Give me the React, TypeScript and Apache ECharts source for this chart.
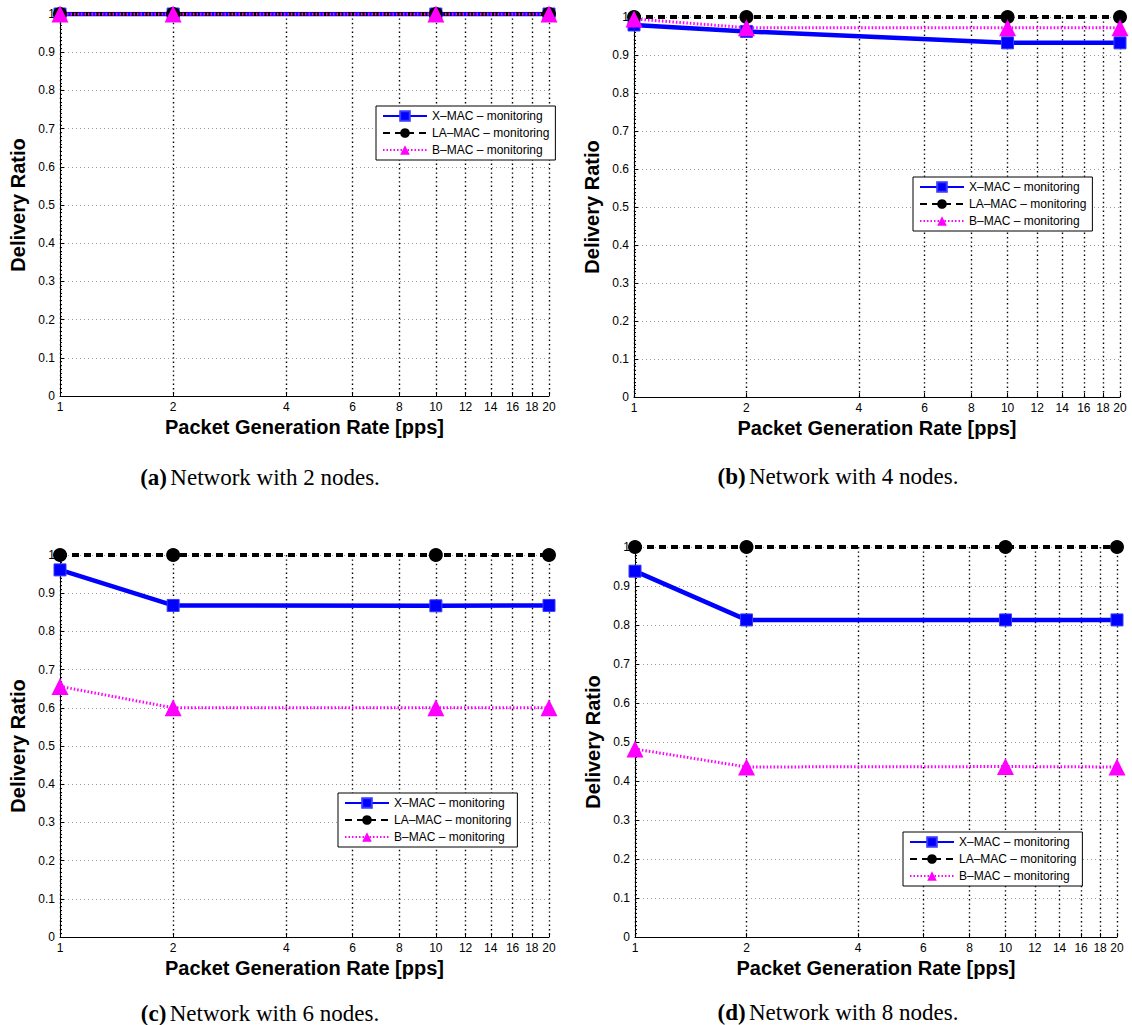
import React, { useEffect, useRef } from "react";
import * as echarts from "echarts";

const rates = [1, 2, 10, 20];
const xTicks = [1, 2, 4, 6, 8, 10, 12, 14, 16, 18, 20];
const seriesNames = ["X–MAC – monitoring", "LA–MAC – monitoring", "B–MAC – monitoring"];

// panel (a) 2 nodes
const xmacA = [1.0, 1.0, 1.0, 1.0];
const lamacA = [1.0, 1.0, 1.0, 1.0];
const bmacA = [1.0, 1.0, 1.0, 1.0];
// panel (b) 4 nodes
const xmacB = [0.979, 0.962, 0.932, 0.932];
const lamacB = [1.0, 1.0, 1.0, 1.0];
const bmacB = [0.995, 0.972, 0.972, 0.972];
// panel (c) 6 nodes
const xmacC = [0.961, 0.868, 0.867, 0.868];
const lamacC = [1.0, 1.0, 1.0, 1.0];
const bmacC = [0.656, 0.6, 0.6, 0.6];
// panel (d) 8 nodes
const xmacD = [0.938, 0.813, 0.813, 0.813];
const lamacD = [1.0, 1.0, 1.0, 1.0];
const bmacD = [0.482, 0.436, 0.437, 0.436];

const captions = [
  { tag: "(a)", text: "Network with 2 nodes." },
  { tag: "(b)", text: "Network with 4 nodes." },
  { tag: "(c)", text: "Network with 6 nodes." },
  { tag: "(d)", text: "Network with 8 nodes." },
];

const panels = [
  { x: xmacA, la: lamacA, b: bmacA },
  { x: xmacB, la: lamacB, b: bmacB },
  { x: xmacC, la: lamacC, b: bmacC },
  { x: xmacD, la: lamacD, b: bmacD },
];

// layout
const grids = [
  { left: 60, top: 14, width: 489, height: 382 },
  { left: 634, top: 17, width: 486, height: 380 },
  { left: 60, top: 555, width: 489, height: 382 },
  { left: 635, top: 547, width: 482, height: 390 },
];
const legendPos = [
  { left: 376, top: 106 },
  { left: 913, top: 177 },
  { left: 338, top: 793 },
  { left: 903, top: 832 },
];
const captionPos = [
  { x: 260, y: 477 },
  { x: 838, y: 476 },
  { x: 260, y: 1013 },
  { x: 838, y: 1012 },
];

const SANS = "Liberation Sans, Arial, sans-serif";
const SERIF = "Liberation Serif, Times New Roman, serif";

export default function App() {
  const ref = useRef<HTMLDivElement>(null);
  useEffect(() => {
    if (!ref.current) return;
    const chart = echarts.init(ref.current, undefined, { renderer: "svg" });

    const xAxes: any[] = [];
    const yAxes: any[] = [];
    const series: any[] = [];
    const legends: any[] = [];
    const graphics: any[] = [];

    panels.forEach((p, i) => {
      xAxes.push({
        type: "log",
        logBase: 10,
        gridIndex: i,
        min: 1,
        max: 20,
        name: "Packet Generation Rate [pps]",
        nameLocation: "middle",
        nameGap: 21,
        nameTextStyle: { fontFamily: SANS, fontWeight: "bold", fontSize: 20, color: "#000" },
        axisLine: { show: true, onZero: false, lineStyle: { color: "#000", width: 1 } },
        axisTick: { show: true, inside: true, length: 4, customValues: xTicks, lineStyle: { color: "#000" } },
        axisLabel: { customValues: xTicks, fontFamily: SANS, fontSize: 12, color: "#000", margin: 5 },
        splitLine: { show: true, lineStyle: { color: "#000", width: 1.4, type: [1.4, 3] } },
        minorTick: { show: false },
      });
      yAxes.push({
        type: "value",
        gridIndex: i,
        min: 0,
        max: 1,
        interval: 0.1,
        name: "Delivery Ratio",
        nameLocation: "middle",
        nameGap: 32,
        nameTextStyle: { fontFamily: SANS, fontWeight: "bold", fontSize: 20, color: "#000" },
        axisLine: { show: true, lineStyle: { color: "#000", width: 1 } },
        axisTick: { show: true, inside: true, length: 4, lineStyle: { color: "#000" } },
        minorTick: { show: true, splitNumber: 10, length: 2, lineStyle: { color: "#000" } },
        axisLabel: { fontFamily: SANS, fontSize: 12, color: "#000", margin: 5 },
        splitLine: { show: true, lineStyle: { color: "#9a9a9a", width: 1, type: [1, 3] } },
      });
      const mk = (vals: number[]) => rates.map((r, k) => [r, vals[k]]);
      series.push({
        name: seriesNames[0],
        type: "line",
        xAxisIndex: i,
        yAxisIndex: i,
        data: mk(p.x),
        symbol: "rect",
        symbolSize: 12,
        lineStyle: { color: "#0000ff", width: 4.5, type: "solid" },
        itemStyle: { color: "#0000ff", borderColor: "#3a3aff", borderWidth: 1 },
        emphasis: { disabled: true },
      });
      series.push({
        name: seriesNames[1],
        type: "line",
        xAxisIndex: i,
        yAxisIndex: i,
        data: mk(p.la),
        symbol: "circle",
        symbolSize: 14,
        lineStyle: { color: "#000000", width: 4, type: [7, 5] },
        itemStyle: { color: "#000000" },
        emphasis: { disabled: true },
      });
      series.push({
        name: seriesNames[2],
        type: "line",
        xAxisIndex: i,
        yAxisIndex: i,
        data: mk(p.b),
        symbol: "triangle",
        symbolSize: 17,
        lineStyle: { color: "#ff00ff", width: 3, type: [1.5, 2] },
        itemStyle: { color: "#ff00ff" },
        emphasis: { disabled: true },
      });
      legends.push({
        data: seriesNames,
        orient: "vertical",
        left: legendPos[i].left,
        top: legendPos[i].top,
        itemWidth: 44,
        itemHeight: 12,
        itemGap: 5,
        padding: [4, 6, 4, 6],
        borderColor: "#000",
        borderWidth: 1,
        backgroundColor: "#fff",
        borderRadius: 0,
        selectedMode: false,
        textStyle: { fontFamily: SANS, fontSize: 12, color: "#000" },
      });
      graphics.push({
        type: "text",
        x: captionPos[i].x,
        y: captionPos[i].y,
        style: {
          text: "{b|" + captions[i].tag + "} {n|" + captions[i].text + "}",
          align: "center",
          verticalAlign: "middle",
          rich: {
            b: { fontFamily: SERIF, fontWeight: "bold", fontSize: 23, fill: "#000" },
            n: { fontFamily: SERIF, fontSize: 23, fill: "#000" },
          },
        },
      });
    });

    chart.setOption({
      animation: false,
      backgroundColor: "#fff",
      grid: grids.map((g) => ({ ...g, containLabel: false })),
      xAxis: xAxes,
      yAxis: yAxes,
      series,
      legend: legends,
      graphic: graphics,
    });
    return () => chart.dispose();
  }, []);
  return <div ref={ref} style={{ position: "absolute", left: 0, top: 0, width: 1132, height: 1025 }} />;
}
